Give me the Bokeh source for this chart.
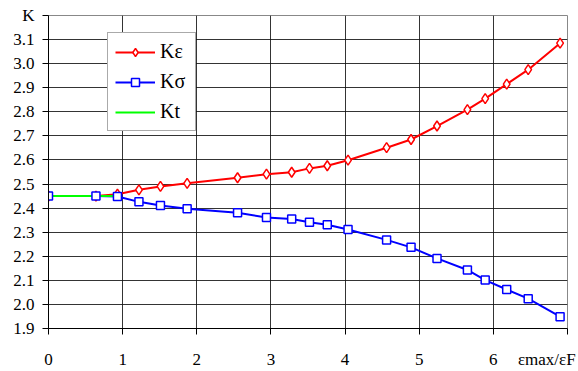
from bokeh.plotting import figure
from bokeh.models import (FixedTicker, PrintfTickFormatter, Legend, LegendItem, Range1d)
from bokeh.embed import file_html
from bokeh.resources import INLINE

# data
x_vals = [0, 0.64, 0.93, 1.22, 1.51, 1.87, 2.55, 2.94, 3.28, 3.52, 3.76, 4.04,
          4.56, 4.89, 5.24, 5.65, 5.89, 6.18, 6.47, 6.90]
k_eps = [2.45, 2.45, 2.458, 2.476, 2.490, 2.503, 2.526, 2.541, 2.549, 2.565, 2.576, 2.599,
         2.651, 2.685, 2.741, 2.809, 2.855, 2.915, 2.975, 3.085]
k_sig = [2.45, 2.45, 2.448, 2.426, 2.411, 2.397, 2.381, 2.361, 2.355, 2.341, 2.331, 2.311,
         2.268, 2.237, 2.191, 2.143, 2.101, 2.062, 2.024, 1.949]
kt_x = [0, 0.93]
kt_y = [2.45, 2.45]
x_ticks = [0, 1, 2, 3, 4, 5, 6, 7]
x_label_pos = 6.72
x_label = "\u03b5max/\u03b5F"
y_ticks = [1.9, 2.0, 2.1, 2.2, 2.3, 2.4, 2.5, 2.6, 2.7, 2.8, 2.9, 3.0, 3.1, 3.2]
y_label = "K"

FONT = "Liberation Serif"

p = figure(width=578, height=371, output_backend="svg", toolbar_location=None,
           x_range=Range1d(0, 7), y_range=Range1d(1.9, 3.2),
           min_border_left=48, min_border_right=11, min_border_top=15, min_border_bottom=43)
p.background_fill_color = "white"
p.border_fill_color = "white"
p.outline_line_color = "#888888"
p.outline_line_width = 1

for ax in (p.xaxis[0], p.yaxis[0]):
    ax.axis_line_color = "black"
    ax.axis_line_width = 1
    ax.major_tick_line_color = "black"
    ax.major_tick_out = 6
    ax.major_tick_in = 0
    ax.minor_tick_out = 0
    ax.minor_tick_in = 0
    ax.major_label_text_font = FONT
    ax.major_label_text_font_size = "17px"
    ax.major_label_text_color = "black"

# x axis: labelled major ticks at 0..6 plus the axis title slot; tick marks drawn as minor ticks
p.xaxis.ticker = FixedTicker(ticks=x_ticks[:-1] + [x_label_pos], minor_ticks=x_ticks)
p.xaxis.major_label_overrides = {x_label_pos: x_label}
p.xaxis.major_tick_line_color = None
p.xaxis.major_tick_out = 0
p.xaxis.minor_tick_line_color = "black"
p.xaxis.minor_tick_out = 6
p.xaxis.major_label_standoff = 15

p.yaxis.ticker = FixedTicker(ticks=y_ticks)
p.yaxis.formatter = PrintfTickFormatter(format="%.1f")
p.yaxis.major_label_overrides = {3.2: y_label}
p.yaxis.major_label_standoff = 8

p.xgrid.ticker = FixedTicker(ticks=x_ticks[1:-1])
p.ygrid.ticker = FixedTicker(ticks=y_ticks[1:-1])
p.xgrid.grid_line_color = "#111111"
p.ygrid.grid_line_color = "#111111"
p.xgrid.grid_line_width = 1
p.ygrid.grid_line_width = 1
p.xgrid.grid_line_alpha = 0.85
p.ygrid.grid_line_alpha = 0.85

l_eps = p.line(x_vals, k_eps, line_color="#FF0000", line_width=2)
l_sig = p.line(x_vals, k_sig, line_color="#0000FF", line_width=2)
l_kt = p.line(kt_x, kt_y, line_color="#00FF00", line_width=2)
m_eps = p.scatter(x_vals, k_eps, marker="diamond", size=10, fill_color="white",
                  line_color="#FF0000", line_width=1.5)
m_sig = p.scatter(x_vals, k_sig, marker="square", size=8, fill_color="white",
                  line_color="#0000FF", line_width=1.5)

legend = Legend(items=[
    LegendItem(label="K\u03b5", renderers=[l_eps, m_eps]),
    LegendItem(label="K\u03c3", renderers=[l_sig, m_sig]),
    LegendItem(label="Kt", renderers=[l_kt]),
], location=(59, 197))
legend.label_text_font = FONT
legend.label_text_font_size = "20px"
legend.label_text_color = "black"
legend.glyph_width = 40
legend.glyph_height = 20
legend.label_height = 20
legend.label_width = 28
legend.label_standoff = 5
legend.spacing = 7
legend.padding = 7
legend.margin = 0
legend.border_line_color = "#555555"
legend.border_line_width = 1
legend.background_fill_color = "white"
legend.background_fill_alpha = 1
p.add_layout(legend)

open("out.html", "w").write(file_html(p, INLINE))
